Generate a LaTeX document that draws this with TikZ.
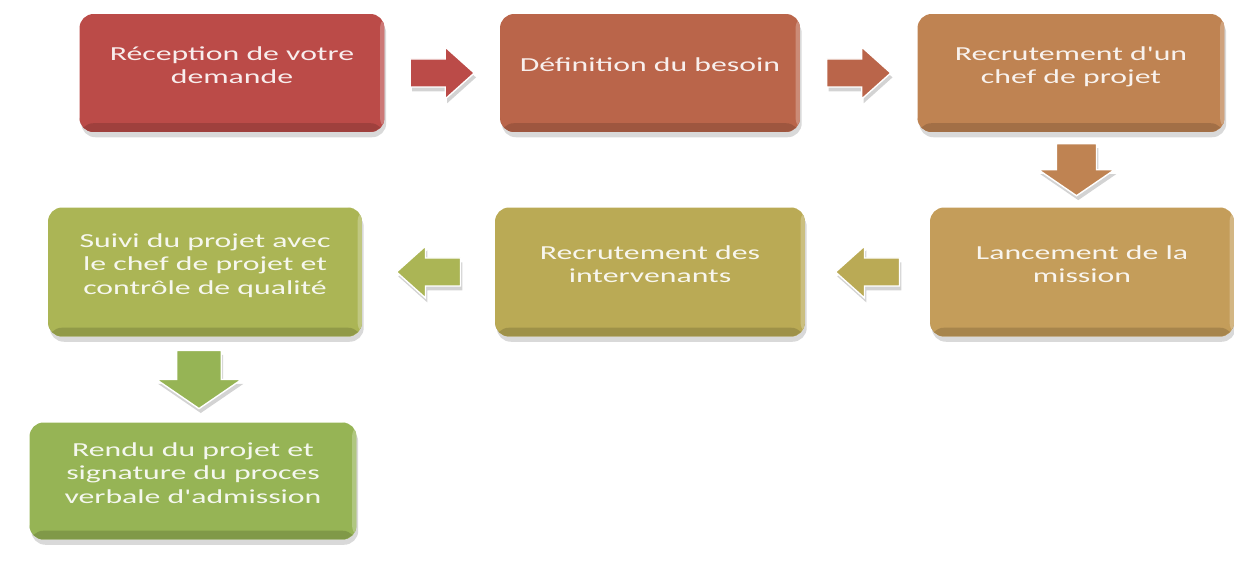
\documentclass[tikz,border=0pt]{standalone}
\usepackage{fontspec}
\usepackage{tikz}
\usetikzlibrary{calc,shadows}
\newfontfamily\boxfont[FakeStretch=1.6]{Carlito}
\definecolor{rouge}{RGB}{187,75,72}
\definecolor{brique}{RGB}{186,101,74}
\definecolor{cuivre}{RGB}{191,131,82}
\definecolor{ocre}{RGB}{196,157,90}
\definecolor{olive}{RGB}{186,170,85}
\definecolor{vertolive}{RGB}{171,181,85}
\definecolor{vert}{RGB}{150,180,85}
\tikzset{
  etape/.style={rectangle, rounded corners=8pt, minimum width=6.1cm, minimum height=2.36cm,
    fill=#1, text=white, text opacity=0.9, align=center, text depth=9pt,
    font=\boxfont\fontsize{11.3}{13.3}\selectfont,
    drop shadow={shadow xshift=1pt, shadow yshift=-3pt, opacity=0.3},
    path picture={
      \fill[#1!85!black] ([yshift=5pt]path picture bounding box.south west) rectangle (path picture bounding box.south east);
      \fill[#1!75!white] ([xshift=-2.5pt]path picture bounding box.north east) rectangle (path picture bounding box.south east);
    }},
  fleche/.style={fill=#1, draw=white, line width=0.8pt,
    drop shadow={shadow xshift=1pt, shadow yshift=-2.5pt, opacity=0.35}},
  pics/flecheH/.style={code={
    \path[fleche=#1] (-32,-14) -- (3,-14) -- (3,-26) -- (32,0) -- (3,26) -- (3,14) -- (-32,14) -- cycle;}},
  pics/flecheV/.style={code={
    \path[fleche=#1] (-20,-26) -- (20,-26) -- (20,0) -- (38,0) -- (0,26) -- (-38,0) -- (-20,0) -- cycle;}}
}
\begin{document}
\begin{tikzpicture}[x=0.02cm, y=-0.02cm]
  \useasboundingbox (0,0) rectangle (1234,567);
  % Étapes, première ligne
  \node[etape=rouge] (reception) at (232,73) {Réception de votre\\demande};
  \node[etape=brique, minimum width=6cm] (besoin) at (650,73) {Définition du besoin};
  \node[etape=cuivre, minimum width=6.14cm] (chef) at (1071,73) {Recrutement d'un\\chef de projet};
  % Deuxième ligne
  \node[etape=ocre, minimum height=2.58cm, minimum width=6.08cm] (lancement) at (1082,272) {Lancement de la\\mission};
  \node[etape=olive, minimum height=2.58cm, minimum width=6.2cm] (intervenants) at (650,272) {Recrutement des\\intervenants};
  \node[etape=vertolive, minimum height=2.58cm, minimum width=6.28cm] (suivi) at (205,272) {Suivi du projet avec\\le chef de projet et\\contrôle de qualité};
  % Dernière étape
  \node[etape=vert, minimum height=2.34cm, minimum width=6.54cm] (rendu) at (193,481) {Rendu du projet et\\signature du proces\\verbale d'admission};
  % Flèches
  \pic at ($(reception.east)!0.5!(besoin.west)$) {flecheH=rouge};
  \pic at ($(besoin.east)!0.5!(chef.west)$) {flecheH=brique};
  \pic at ($(chef.south)!0.5!(lancement.north)$) {flecheV=cuivre};
  \pic[rotate=180] at ($(lancement.west)!0.5!(intervenants.east)$) {flecheH=olive};
  \pic[rotate=180] at ($(intervenants.west)!0.5!(suivi.east)$) {flecheH=vertolive};
  \pic[scale=1.12] at ($(suivi.south)!0.5!(rendu.north)$) {flecheV=vert};
\end{tikzpicture}
\end{document}
